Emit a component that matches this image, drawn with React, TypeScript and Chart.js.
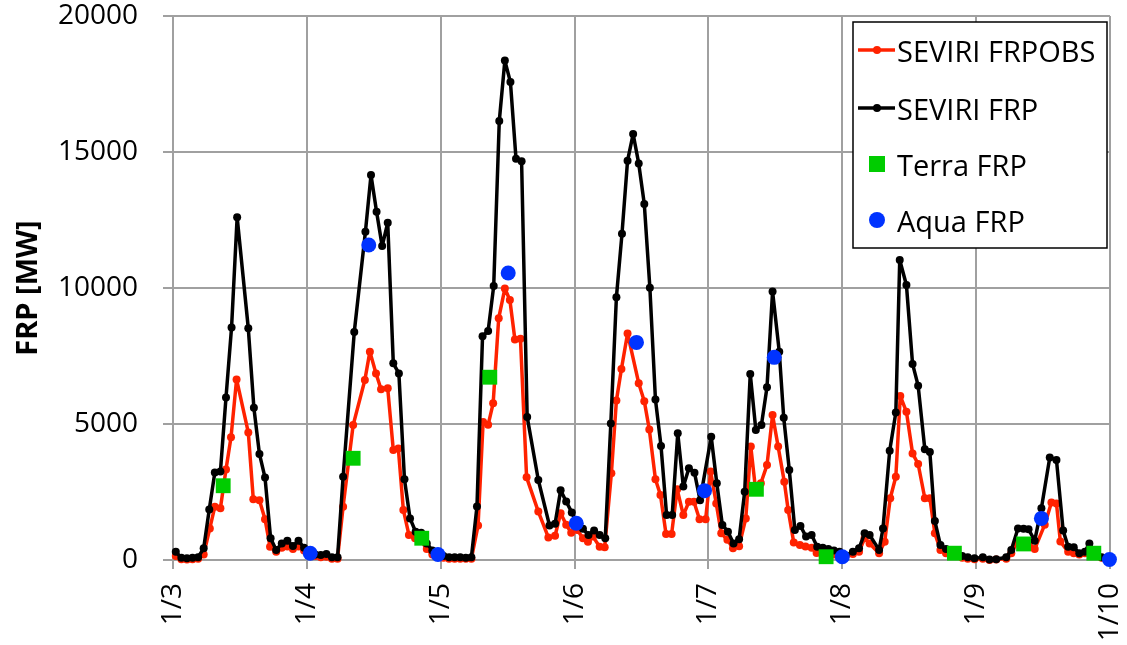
import React, { useEffect, useRef } from "react";
import { Chart, registerables } from "chart.js";

Chart.register(...registerables);

// x values are hours since 1/3 00:00
const tickLabels = ["1/3", "1/4", "1/5", "1/6", "1/7", "1/8", "1/9", "1/10"];

const frpHours = [
  0.5, 1.5, 2.5, 3.5, 4.5, 5.5, 6.5, 7.5, 8.5, 9.5, 10.5, 11.5, 13.5, 14.5, 15.5, 16.5, 17.5, 18.5, 19.5, 20.5, 21.5, 22.5, 23.5,
  24.5, 25.5, 26.5, 27.5, 28.5, 29.5, 30.5, 32.5, 34.5, 35.5, 36.5, 37.5, 38.5, 39.5, 40.5, 41.5, 42.5, 43.5, 44.5, 45.5, 46.5, 47.5,
  48.5, 49.5, 50.5, 51.5, 52.5, 53.5, 54.5, 55.5, 56.5, 57.5, 58.5, 59.5, 60.5, 61.5, 62.5, 63.5, 65.5, 67.5, 68.5, 69.5, 70.5, 71.5,
  72.5, 73.5, 74.5, 75.5, 76.5, 77.5, 78.5, 79.5, 80.5, 81.5, 82.5, 83.5, 84.5, 85.5, 86.5, 87.5, 88.5, 89.5, 90.5, 91.5, 92.5, 93.5, 94.5,
  96.5, 97.5, 98.5, 99.5, 100.5, 101.5, 102.5, 103.5, 104.5, 105.5, 106.5, 107.5, 108.7, 109.5, 110.5, 111.5, 112.5, 113.5, 114.5, 115.5, 116.5, 117.5, 118.5,
  119.5, 120.5, 121.9, 123.0, 124.0, 124.9, 126.6, 127.3, 128.5, 129.6, 130.3, 131.5, 132.6, 133.6, 134.8, 135.7, 136.6, 137.6, 138.6, 139.6, 140.6,
  141.5, 142.5, 143.7, 145.2, 146.4, 147.6, 149.4, 150.3, 151.5, 152.5, 153.4, 154.5, 155.7, 157.2, 158.4, 159.6, 160.5, 161.5, 162.5, 163.5, 164.3, 165.5, 166.5, 167.5,
];
const frpValues = [
  300, 80, 60, 80, 100, 430, 1860, 3220, 3250, 5970, 8550, 12600, 8520, 5600, 3900, 3030, 800, 370, 610, 710, 515, 710, 450,
  250, 200, 180, 220, 100, 100, 3060, 8380, 12070, 14150, 12800, 11540, 12400, 7230, 6860, 2970, 1530, 1040, 1000, 610, 350, 200,
  150, 100, 100, 100, 80, 100, 1970, 8230, 8420, 10070, 16140, 18360, 17570, 14750, 14660, 5260, 2940, 1270, 1330, 2560, 2150, 1750,
  1300, 1150, 920, 1080, 920, 800, 5020, 9660, 11990, 14680, 15660, 14580, 13090, 10010, 5900, 4190, 1650, 1650, 4660, 2700, 3370, 3210, 2200,
  4530, 2820, 1290, 1040, 610, 760, 2510, 6840, 4780, 4960, 6350, 9870, 7660, 5230, 3310, 1100, 1250, 860, 920, 490, 450, 400, 350,
  300, 150, 300, 430, 980, 920, 370, 1160, 4020, 5420, 11030, 10110, 7210, 6410, 4070, 3970, 1430, 550, 400, 350, 250,
  150, 100, 60, 100, 20, 30, 100, 370, 1160, 1150, 1130, 710, 1900, 3770, 3680, 1080, 490, 470, 250, 300, 610, 200, 100, 50,
];

const obsHours = [
  0.5, 1.5, 2.5, 3.5, 4.5, 5.5, 6.6, 7.5, 8.5, 9.5, 10.4, 11.4, 13.5, 14.4, 15.5, 16.5, 17.4, 18.5, 19.5, 20.5, 21.5, 22.5, 23.5,
  24.5, 25.5, 26.5, 27.5, 28.5, 29.5, 30.5, 32.3, 34.4, 35.3, 36.4, 37.3, 38.5, 39.5, 40.4, 41.3, 42.3, 43.4, 44.5, 45.5, 46.5, 47.5,
  48.5, 49.5, 50.5, 51.5, 52.5, 53.5, 54.7, 55.6, 56.5, 57.4, 58.4, 59.5, 60.4, 61.3, 62.3, 63.4, 65.5, 67.3, 68.5, 69.5, 70.5, 71.4,
  72.5, 73.5, 74.4, 75.3, 76.5, 77.4, 78.6, 79.5, 80.4, 81.5, 83.5, 84.5, 85.4, 86.5, 87.4, 88.4, 89.4, 90.4, 91.5, 92.5, 93.4, 94.4, 95.5,
  96.4, 97.4, 98.3, 99.4, 100.4, 101.5, 102.7, 103.6, 104.5, 105.4, 106.5, 107.5, 108.5, 109.6, 110.3, 111.3, 112.4, 113.4, 114.5, 115.4, 116.4, 117.5, 118.5,
  119.5, 120.5, 121.9, 123.0, 124.0, 124.9, 126.6, 127.6, 128.6, 129.6, 130.4, 131.5, 132.6, 133.6, 134.8, 135.7, 136.6, 137.6, 138.6, 139.6, 140.6,
  141.5, 142.5, 143.7, 145.2, 146.4, 147.6, 149.4, 150.3, 151.5, 152.5, 153.4, 154.5, 156.3, 157.5, 158.4, 159.1, 160.5, 161.5, 162.5, 163.5, 164.3, 165.5, 166.5, 167.5,
];
const obsValues = [
  150, 30, 20, 30, 50, 200, 1160, 1960, 1900, 3330, 4510, 6640, 4690, 2230, 2200, 1500, 490, 300, 450, 500, 400, 500, 350,
  200, 150, 100, 120, 50, 50, 1960, 4960, 6620, 7660, 6860, 6280, 6310, 4040, 4100, 1840, 920, 800, 700, 400, 200, 150,
  80, 50, 50, 50, 50, 50, 1270, 5070, 4970, 5760, 8890, 9980, 9560, 8110, 8130, 3040, 1780, 830, 890, 1720, 1300, 1000,
  1100, 800, 670, 860, 490, 470, 3190, 5860, 7020, 8330, 6500, 5840, 4800, 2970, 2390, 960, 960, 2600, 1650, 2140, 2140, 1500, 1500,
  3250, 2080, 980, 740, 430, 510, 1530, 4170, 2500, 2820, 3490, 5330, 4170, 2880, 1840, 640, 550, 500, 450, 260, 250, 200, 200,
  150, 100, 220, 300, 800, 610, 250, 670, 2270, 3060, 6030, 5450, 3920, 3530, 2270, 2270, 980, 370, 250, 250, 150,
  80, 50, 30, 50, 0, 20, 50, 250, 700, 600, 650, 400, 1300, 2110, 2080, 680, 300, 250, 200, 250, 400, 150, 80, 30,
];

const terraHours = [9.0, 32.3, 44.6, 56.8, 104.6, 117.1, 140.1, 152.5, 165.1];
const terraValues = [2730, 3740, 800, 6720, 2600, 120, 250, 590, 250];

const aquaHours = [24.6, 35.1, 47.5, 60.1, 72.3, 83.1, 95.3, 107.8, 120.0, 155.7, 167.9];
const aquaValues = [250, 11580, 200, 10550, 1350, 8000, 2550, 7450, 120, 1530, 20];

const toPoints = (xs: number[], ys: number[]) => xs.map((x, i) => ({ x, y: ys[i] }));

const RED = "#FF2200";
const BLACK = "#000000";
const GREEN = "#00CC00";
const BLUE = "#0033FF";
const GRID = "#A0A0A0";
const FONT = "'Open Sans', 'DejaVu Sans', sans-serif";

const legendPlugin = {
  id: "boxLegend",
  afterDraw(chart: any) {
    const ctx = chart.ctx;
    const ds = chart.data.datasets;
    const x0 = 853, y0 = 22, x1 = 1107, y1 = 248;
    ctx.save();
    ctx.fillStyle = "#FFFFFF";
    ctx.fillRect(x0, y0, x1 - x0, y1 - y0);
    ctx.strokeStyle = "#000000";
    ctx.lineWidth = 1.5;
    ctx.strokeRect(x0, y0, x1 - x0, y1 - y0);
    const rows = [50, 108, 164, 220];
    ctx.font = `29px ${FONT}`;
    ctx.textBaseline = "alphabetic";
    ctx.textAlign = "left";
    ds.forEach((d: any, i: number) => {
      const cy = rows[i];
      const cx = 877;
      if (d.showLine !== false) {
        ctx.strokeStyle = d.borderColor;
        ctx.lineWidth = 3.5;
        ctx.beginPath();
        ctx.moveTo(858, cy);
        ctx.lineTo(895, cy);
        ctx.stroke();
        ctx.fillStyle = d.borderColor;
        ctx.beginPath();
        ctx.arc(cx, cy, 4, 0, Math.PI * 2);
        ctx.fill();
      } else if (d.pointStyle === "rect") {
        ctx.fillStyle = d.backgroundColor;
        ctx.fillRect(cx - 8, cy - 8, 16, 16);
      } else {
        ctx.fillStyle = d.backgroundColor;
        ctx.beginPath();
        ctx.arc(cx, cy, 8, 0, Math.PI * 2);
        ctx.fill();
      }
      ctx.fillStyle = "#000000";
      ctx.fillText(d.label, 897, cy + 12);
    });
    ctx.restore();
  },
};

export default function App() {
  const ref = useRef<HTMLCanvasElement | null>(null);
  useEffect(() => {
    if (!ref.current) return;
    const lineCommon = {
      borderWidth: 3.5,
      pointRadius: 4,
      pointBorderWidth: 0,
      tension: 0,
      borderJoinStyle: "round" as const,
      borderCapStyle: "round" as const,
      clip: false as const,
    };
    const chart = new Chart(ref.current, {
      type: "line",
      data: {
        datasets: [
          {
            label: "SEVIRI FRPOBS",
            data: toPoints(obsHours, obsValues),
            borderColor: RED,
            backgroundColor: RED,
            pointBackgroundColor: RED,
            ...lineCommon,
            order: 4,
          },
          {
            label: "SEVIRI FRP",
            data: toPoints(frpHours, frpValues),
            borderColor: BLACK,
            backgroundColor: BLACK,
            pointBackgroundColor: BLACK,
            ...lineCommon,
            order: 3,
          },
          {
            label: "Terra FRP",
            data: toPoints(terraHours, terraValues),
            showLine: false,
            pointStyle: "rect",
            pointRadius: 10.5,
            pointBorderWidth: 0,
            backgroundColor: GREEN,
            borderColor: GREEN,
            pointBackgroundColor: GREEN,
            clip: false,
            order: 2,
          },
          {
            label: "Aqua FRP",
            data: toPoints(aquaHours, aquaValues),
            showLine: false,
            pointStyle: "circle",
            pointRadius: 7.5,
            pointBorderWidth: 0,
            backgroundColor: BLUE,
            borderColor: BLUE,
            pointBackgroundColor: BLUE,
            clip: false,
            order: 1,
          },
        ],
      },
      options: {
        animation: false,
        responsive: true,
        maintainAspectRatio: false,
        layout: { padding: { top: 16, right: 17, bottom: 0, left: 0 } },
        plugins: { legend: { display: false }, tooltip: { enabled: false } },
        scales: {
          x: {
            type: "linear",
            min: 0,
            max: 168,
            afterFit: (s: any) => {
              s.height = 85;
              s.paddingLeft = 0;
              s.paddingRight = 0;
            },
            grid: { color: GRID, lineWidth: 2, tickLength: 9, drawTicks: true },
            border: { color: GRID, width: 2 },
            ticks: {
              stepSize: 24,
              autoSkip: false,
              minRotation: 90,
              maxRotation: 90,
              padding: 14,
              color: "#000",
              font: { family: FONT, size: 28, lineHeight: 1 },
              callback: (v: any) => tickLabels[Math.round(Number(v) / 24)] ?? "",
            },
          },
          y: {
            min: 0,
            max: 20000,
            afterFit: (s: any) => {
              s.width = 173;
              s.paddingTop = 0;
              s.paddingBottom = 0;
            },
            grid: { color: GRID, lineWidth: 2, tickLength: 10, drawTicks: true },
            border: { color: GRID, width: 2 },
            ticks: {
              stepSize: 5000,
              padding: 25,
              color: "#000",
              font: { family: FONT, size: 28, lineHeight: 1 },
              callback: (v: any) => String(v),
            },
            title: {
              display: true,
              text: "FRP [MW]",
              color: "#000",
              font: { family: FONT, size: 29, weight: "bold", lineHeight: 1.2 },
              padding: { top: 11, bottom: 0 },
            },
          },
        },
      },
      plugins: [legendPlugin],
    });
    return () => chart.destroy();
  }, []);
  return (
    <div style={{ position: "absolute", left: 0, top: 0, width: 1127, height: 645 }}>
      <canvas ref={ref} />
    </div>
  );
}
